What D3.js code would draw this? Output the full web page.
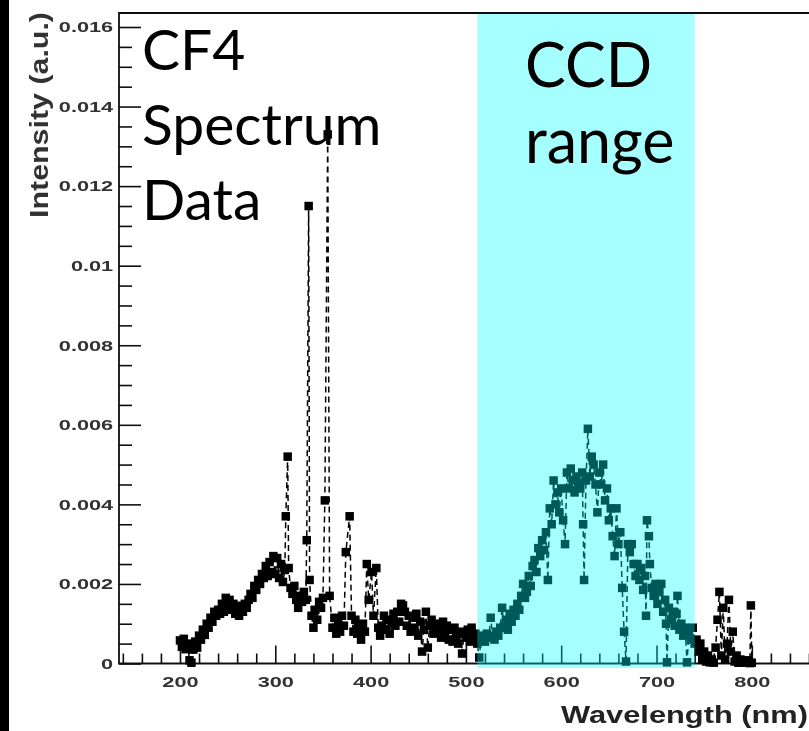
<!DOCTYPE html>
<html>
<head>
<meta charset="utf-8">
<script src="https://cdn.jsdelivr.net/npm/d3@7"></script>
<style>
  html, body { margin: 0; padding: 0; background: #fff; }
  svg { display: block; }
</style>
</head>
<body>
<svg id="chart" width="809" height="731"></svg>
<script>
// CF4 emission spectrum: wavelength (nm) and measured intensity (a.u.)
const wavelength = [
  200,202,204,206,208,210,212,214,216,218,220,222,224,226,228,230,232,234,236,238,
  240,242,244,246,248,250,252,254,256,258,260,262,264,266,268,270,272,274,276,278,
  280,282,284,286,288,290,292,294,296,298,300,302,304,306,308,310,311,313,314,316,
  318,320,322,324,326,328,330,332,333,335,336,338,340,342,344,346,348,350,352,355,
  357,360,362,364,366,368,370,372,374,378,380,382,384,386,388,390,392,394,396,398,
  401,403,406,408,410,412,414,416,418,420,422,424,426,428,430,432,434,436,438,440,
  442,444,446,448,450,452,454,456,458,460,462,464,466,468,470,472,474,476,478,480,
  482,484,486,488,490,492,494,496,498,500,502,504,506,508,510,512,514,516,518,520,
  522,524,526,528,530,532,534,536,538,540,542,544,546,548,550,552,554,556,558,560,
  562,564,566,568,570,572,574,576,578,580,582,584,586,588,590,592,594,596,598,600,
  602,604,606,608,610,612,614,616,618,620,622,623,624,626,628,630,632,634,636,638,
  640,642,644,646,648,650,652,654,656,658,660,662,664,666,668,670,672,674,676,678,
  680,682,684,686,688,689,690,692,693,695,697,699,701,703,705,707,709,710,711,713,
  715,717,719,721,722,724,726,728,730,732,734,736,738,740,742,744,746,748,750,752,
  754,756,758,760,762,764,766,768,770,772,774,776,778,780,782,784,786,788,790,792,
  794,796,798,799,800
];
const intensity = [
  5.8e-4,4.2e-4,6.2e-4,3.6e-4,5.0e-4,0.8e-4,0.2e-4,3.5e-4,5.5e-4,4.0e-4,7.0e-4,6.0e-4,8.5e-4,7.2e-4,10.0e-4,9.0e-4,11.5e-4,10.5e-4,13.0e-4,12.0e-4,
  13.5e-4,12.5e-4,15.0e-4,13.0e-4,16.5e-4,14.5e-4,16.0e-4,13.5e-4,15.0e-4,12.5e-4,14.0e-4,12.0e-4,14.5e-4,13.0e-4,15.0e-4,14.0e-4,16.0e-4,17.5e-4,16.5e-4,19.5e-4,
  18.5e-4,21.0e-4,20.0e-4,22.5e-4,21.5e-4,24.5e-4,22.0e-4,25.5e-4,23.0e-4,27.0e-4,22.5e-4,26.5e-4,21.5e-4,25.0e-4,20.5e-4,23.5e-4,37.0e-4,52.0e-4,24.0e-4,19.0e-4,
  17.5e-4,19.5e-4,16.0e-4,14.0e-4,17.0e-4,15.5e-4,18.0e-4,16.0e-4,31.0e-4,115.0e-4,21.0e-4,12.0e-4,9.0e-4,13.5e-4,11.0e-4,15.5e-4,14.0e-4,16.5e-4,41.0e-4,133.0e-4,
  17.0e-4,9.0e-4,11.5e-4,7.5e-4,10.0e-4,8.0e-4,12.0e-4,9.5e-4,28.0e-4,37.0e-4,12.0e-4,8.0e-4,11.0e-4,7.5e-4,9.0e-4,6.0e-4,10.0e-4,8.0e-4,25.0e-4,16.0e-4,
  23.0e-4,12.0e-4,24.0e-4,9.0e-4,7.0e-4,9.5e-4,12.0e-4,8.5e-4,11.0e-4,7.5e-4,10.5e-4,12.5e-4,9.5e-4,13.0e-4,10.5e-4,15.0e-4,14.6e-4,13.0e-4,9.5e-4,12.0e-4,
  8.0e-4,11.5e-4,9.0e-4,12.5e-4,7.0e-4,10.5e-4,3.0e-4,8.5e-4,13.0e-4,4.0e-4,9.5e-4,11.0e-4,7.5e-4,10.0e-4,8.0e-4,9.5e-4,6.5e-4,10.5e-4,8.0e-4,9.5e-4,
  6.0e-4,8.5e-4,5.5e-4,9.0e-4,7.0e-4,5.0e-4,8.0e-4,2.5e-4,7.5e-4,6.5e-4,8.5e-4,5.5e-4,9.0e-4,6.0e-4,7.5e-4,5.0e-4,1.5e-4,6.5e-4,7.0e-4,5.5e-4,
  7.5e-4,6.5e-4,11.5e-4,7.0e-4,6.0e-4,8.0e-4,7.0e-4,9.0e-4,14.0e-4,9.5e-4,11.0e-4,8.5e-4,12.5e-4,10.5e-4,13.5e-4,12.0e-4,15.0e-4,13.5e-4,17.0e-4,20.0e-4,
  16.5e-4,18.0e-4,22.0e-4,19.5e-4,24.5e-4,26.0e-4,23.0e-4,29.0e-4,27.0e-4,31.0e-4,28.5e-4,33.0e-4,21.0e-4,39.0e-4,35.0e-4,46.0e-4,40.0e-4,43.0e-4,38.0e-4,44.0e-4,
  36.0e-4,30.0e-4,48.0e-4,44.0e-4,49.0e-4,46.0e-4,43.0e-4,47.0e-4,45.0e-4,44.0e-4,48.0e-4,35.0e-4,21.0e-4,46.0e-4,59.0e-4,47.0e-4,52.0e-4,50.0e-4,45.0e-4,38.0e-4,
  48.0e-4,45.0e-4,50.0e-4,41.0e-4,44.0e-4,36.0e-4,39.0e-4,32.0e-4,27.0e-4,39.0e-4,30.0e-4,33.0e-4,19.0e-4,8.0e-4,0.5e-4,30.0e-4,28.0e-4,30.0e-4,25.0e-4,22.0e-4,
  25.0e-4,21.0e-4,24.0e-4,18.5e-4,22.0e-4,12.0e-4,36.0e-4,32.0e-4,25.0e-4,19.0e-4,17.0e-4,20.0e-4,15.0e-4,18.0e-4,20.0e-4,13.0e-4,16.0e-4,10.0e-4,0.3e-4,14.0e-4,
  11.0e-4,13.0e-4,9.5e-4,12.5e-4,17.0e-4,8.5e-4,10.0e-4,7.0e-4,9.0e-4,0.3e-4,8.0e-4,6.0e-4,9.0e-4,5.0e-4,6.0e-4,3.0e-4,5.0e-4,1.0e-4,3.0e-4,0.5e-4,
  2.0e-4,0.3e-4,1.0e-4,0.2e-4,4.0e-4,11.0e-4,18.0e-4,2.0e-4,14.0e-4,1.0e-4,5.0e-4,16.0e-4,3.0e-4,8.0e-4,0.5e-4,2.0e-4,0.2e-4,1.0e-4,0.3e-4,0.5e-4,
  0.2e-4,0.8e-4,0.1e-4,14.6e-4,0.2e-4
];

// Axis ticks and labels
const xMajorTicks = [200, 300, 400, 500, 600, 700, 800];
const xMinorTicks = [140, 160, 180, 220, 240, 260, 280, 320, 340, 360, 380, 420, 440, 460, 480,
                     520, 540, 560, 580, 620, 640, 660, 680, 720, 740, 760, 780, 820, 840, 860];
const yMajorTicks = [0, 0.002, 0.004, 0.006, 0.008, 0.01, 0.012, 0.014, 0.016];
const yMinorTicks = [0.0005, 0.001, 0.0015, 0.0025, 0.003, 0.0035, 0.0045, 0.005, 0.0055,
                     0.0065, 0.007, 0.0075, 0.0085, 0.009, 0.0095, 0.0105, 0.011, 0.0115,
                     0.0125, 0.013, 0.0135, 0.0145, 0.015, 0.0155];
const xTitle = "Wavelength (nm)";
const yTitle = "Intensity (a.u.)";

// Sensitive band of the CCD (nm) and annotations
const ccdRange = [512, 740];
const noteLines = ["CF4", "Spectrum", "Data"];
const ccdLines = ["CCD", "range"];

const svg = d3.select("#chart");
const W = 809, H = 731;
const plot = { left: 119, right: 812, top: 13, bottom: 663.5 };

const x = d3.scaleLinear().domain([136, 860]).range([119, 809]);
const y = d3.scaleLinear().domain([0, 0.016]).range([663.5, 27]);

// soft rendering filter for the plotted figure
const defs = svg.append("defs");
defs.append("filter")
  .attr("id", "soft")
  .attr("filterUnits", "userSpaceOnUse")
  .attr("x", 0).attr("y", 0).attr("width", W).attr("height", H)
  .append("feGaussianBlur").attr("stdDeviation", 0.6);

svg.append("rect").attr("width", W).attr("height", H).attr("fill", "#fff");
// dark strip on the left edge
svg.append("rect").attr("x", 0).attr("y", 0).attr("width", 9).attr("height", H).attr("fill", "#000");

const fig = svg.append("g").attr("filter", "url(#soft)");

// frame
fig.append("path")
  .attr("d", `M${plot.right},${plot.top}H${plot.left}V${plot.bottom}H${plot.right}`)
  .attr("fill", "none").attr("stroke", "#111").attr("stroke-width", 1.8);

const tickFont = "'Liberation Sans', Arial, sans-serif";

// y axis (ticks point into the plot)
const yAxis = fig.append("g").attr("transform", `translate(${plot.left},0)`)
  .call(d3.axisLeft(y).tickValues(yMajorTicks).tickSizeInner(-22).tickSizeOuter(0)
    .tickPadding(4).tickFormat(d3.format("~g")));
const yMinor = fig.append("g").attr("transform", `translate(${plot.left},0)`)
  .call(d3.axisLeft(y).tickValues(yMinorTicks).tickSizeInner(-13).tickSizeOuter(0).tickFormat(""));

// x axis
const xAxis = fig.append("g").attr("transform", `translate(0,${plot.bottom})`)
  .call(d3.axisBottom(x).tickValues(xMajorTicks).tickSizeInner(-18).tickSizeOuter(0)
    .tickPadding(13));
const xMinor = fig.append("g").attr("transform", `translate(0,${plot.bottom})`)
  .call(d3.axisBottom(x).tickValues(xMinorTicks).tickSizeInner(-10).tickSizeOuter(0).tickFormat(""));

[yAxis, yMinor, xAxis, xMinor].forEach(g => {
  g.select(".domain").remove();
  g.selectAll(".tick line").attr("stroke", "#111").attr("stroke-width", 1.6);
});
[yAxis, xAxis].forEach(g => {
  g.selectAll(".tick text")
    .attr("font-family", tickFont)
    .attr("font-weight", "bold")
    .attr("font-size", 15)
    .attr("fill", "#333")
    .attr("transform", "scale(1.45,1)");
});

// axis titles
fig.append("text")
  .attr("x", 808).attr("y", 723)
  .attr("text-anchor", "end")
  .attr("font-family", tickFont).attr("font-weight", "bold").attr("font-size", 24)
  .attr("fill", "#222")
  .attr("textLength", 247).attr("lengthAdjust", "spacingAndGlyphs")
  .text(xTitle);
fig.append("text")
  .attr("transform", "translate(48,12) rotate(-90)")
  .attr("text-anchor", "end")
  .attr("font-family", tickFont).attr("font-weight", "bold").attr("font-size", 25)
  .attr("fill", "#333")
  .attr("textLength", 206).attr("lengthAdjust", "spacingAndGlyphs")
  .text(yTitle);

// spectrum: dashed connecting line plus square markers
const pts = wavelength.map((w, i) => [w, intensity[i]]);
fig.append("path")
  .datum(pts)
  .attr("d", d3.line().x(d => x(d[0])).y(d => y(d[1])))
  .attr("fill", "none")
  .attr("stroke", "#000")
  .attr("stroke-width", 1.5)
  .attr("stroke-dasharray", "6,4");
const ms = 8.5;
fig.append("g").selectAll("rect")
  .data(pts)
  .join("rect")
  .attr("x", d => x(d[0]) - ms / 2)
  .attr("y", d => y(d[1]) - ms / 2)
  .attr("width", ms).attr("height", ms)
  .attr("fill", "#000");

// translucent CCD band over the plot
svg.append("rect")
  .attr("x", x(ccdRange[0]))
  .attr("y", 14)
  .attr("width", x(ccdRange[1]) - x(ccdRange[0]))
  .attr("height", 668 - 14)
  .attr("fill", "rgb(0,255,255)")
  .attr("fill-opacity", 0.35);

// annotations
const noteFont = "Lato, 'Open Sans', sans-serif";
svg.append("g").selectAll("text")
  .data(noteLines)
  .join("text")
  .attr("x", 142)
  .attr("y", (d, i) => 70 + i * 75)
  .attr("font-family", noteFont).attr("font-weight", 400)
  .attr("font-size", 57).attr("fill", "#000")
  .text(d => d);
svg.append("g").selectAll("text")
  .data(ccdLines)
  .join("text")
  .attr("x", 525)
  .attr("y", (d, i) => 87 + i * 76)
  .attr("font-family", noteFont).attr("font-weight", 400)
  .attr("font-size", 61).attr("fill", "#000")
  .text(d => d);
</script>
</body>
</html>
